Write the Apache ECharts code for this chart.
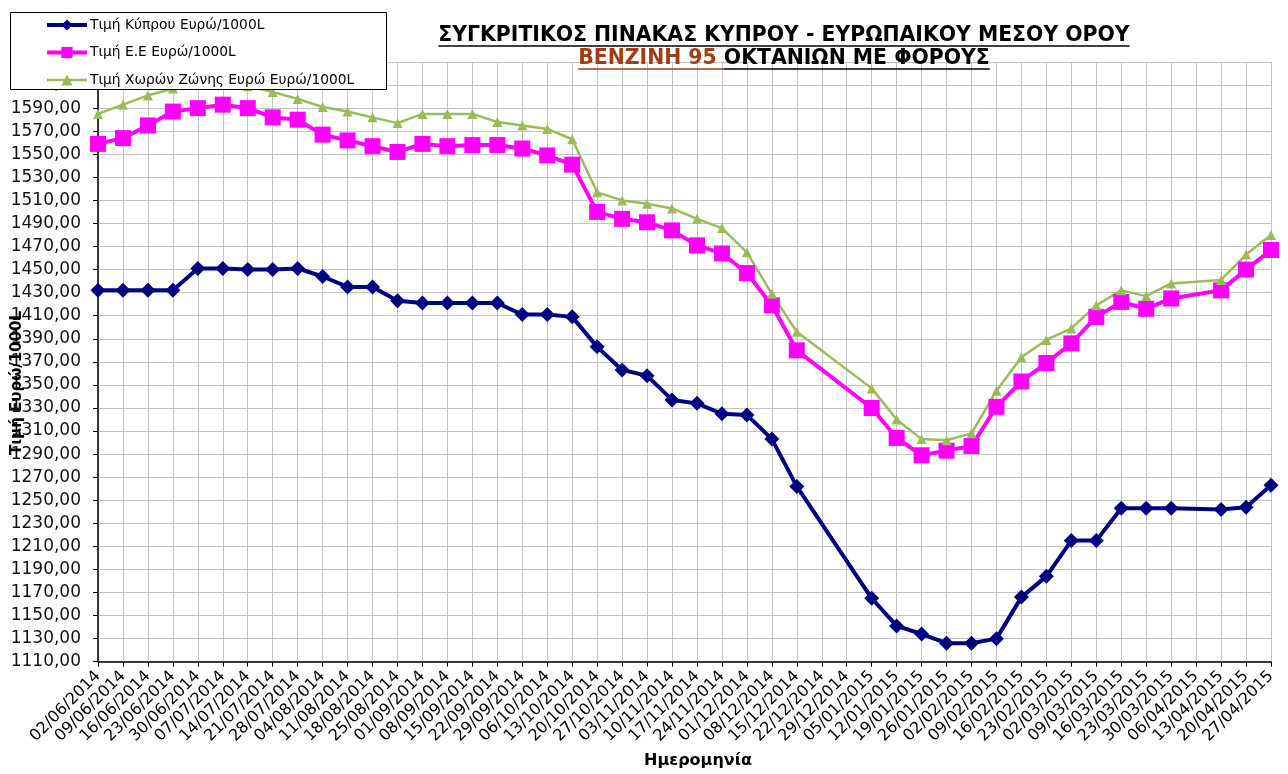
<!DOCTYPE html>
<html><head><meta charset="utf-8">
<script src="https://cdn.jsdelivr.net/npm/echarts@6/dist/echarts.min.js"></script>
<style>html,body{margin:0;padding:0;background:#fff}#c{width:1288px;height:774px}</style>
</head><body><div id="c"></div>
<script>
const categories = ['02/06/2014','09/06/2014','16/06/2014','23/06/2014','30/06/2014','07/07/2014','14/07/2014','21/07/2014','28/07/2014','04/08/2014','11/08/2014','18/08/2014','25/08/2014','01/09/2014','08/09/2014','15/09/2014','22/09/2014','29/09/2014','06/10/2014','13/10/2014','20/10/2014','27/10/2014','03/11/2014','10/11/2014','17/11/2014','24/11/2014','01/12/2014','08/12/2014','15/12/2014','22/12/2014','29/12/2014','05/01/2015','12/01/2015','19/01/2015','26/01/2015','02/02/2015','09/02/2015','16/02/2015','23/02/2015','02/03/2015','09/03/2015','16/03/2015','23/03/2015','30/03/2015','06/04/2015','13/04/2015','20/04/2015','27/04/2015'];
const cyprus = [1432,1432,1432,1432,1451,1451,1450,1450,1451,1444,1435,1435,1423,1421,1421,1421,1421,1411,1411,1409,1383,1363,1358,1337,1334,1325,1324,1303,1262,null,null,1165,1141,1134,1126,1126,1130,1166,1184,1215,1215,1243,1243,1243,null,1242,1244,1263];
const eu = [1559,1564,1575,1587,1590,1593,1590,1582,1580,1567,1562,1557,1552,1559,1557,1558,1558,1555,1549,1541,1500,1494,1491,1484,1471,1464,1447,1419,1380,null,null,1330,1304,1289,1293,1297,1331,1353,1369,1386,1409,1422,1416,1425,null,1432,1450,1467];
const euroZone = [1585,1593,1601,1607,1610,1612,1609,1604,1598,1591,1587,1582,1577,1585,1585,1585,1578,1575,1572,1563,1517,1510,1507,1503,1494,1486,1465,1429,1396,null,null,1347,1320,1303,1302,1308,1345,1374,1389,1399,1419,1432,1427,1438,null,1441,1463,1480];
const seriesNames = ['Τιμή Κύπρου Ευρώ/1000L','Τιμή Ε.Ε Ευρώ/1000L','Τιμή Χωρών Ζώνης Ευρώ Ευρώ/1000L'];
const yRange = [1110, 1630];
const yStep = 20;
const titleLine1 = 'ΣΥΓΚΡΙΤΙΚΟΣ ΠΙΝΑΚΑΣ ΚΥΠΡΟΥ - ΕΥΡΩΠΑΙΚΟΥ ΜΕΣΟΥ ΟΡΟΥ';
const titleLine2a = 'ΒΕΝΖΙΝΗ 95';
const titleLine2b = 'ΟΚΤΑΝΙΩΝ ΜΕ ΦΟΡΟΥΣ';
const xName = 'Ημερομηνία';
const yName = 'Τιμή Ευρώ/1000L';

const FF = "'DejaVu Sans', sans-serif";
const TSIZE = 20.4;
const TFONT = "bold " + TSIZE + "px 'DejaVu Sans'";
const cv = document.createElement('canvas').getContext('2d');
function tw(t, f){ cv.font = f; return cv.measureText(t).width; }
const TCX = 784;
const w1 = tw(titleLine1, TFONT);
const w2a = tw(titleLine2a, TFONT), wsp = tw(' ', TFONT), w2b = tw(titleLine2b, TFONT);
const w2 = w2a + wsp + w2b;
const x2 = TCX - w2 / 2;
const lineWidths = [4, 4, 2.5];

const chart = echarts.init(document.getElementById('c'), null, {renderer:'canvas'});
chart.setOption({
  animation: false,
  backgroundColor: '#fff',
  title: [
    {text: titleLine1, left: TCX, textAlign: 'center', top: 26, padding: 0,
     textStyle: {fontFamily: FF, fontWeight: 'bold', fontSize: TSIZE, color: '#000'}},
    {text: '{r|' + titleLine2a + '} {k|' + titleLine2b + '}', left: TCX, textAlign: 'center', top: 49, padding: 0,
     textStyle: {fontFamily: FF, fontWeight: 'bold', fontSize: TSIZE, color: '#000',
       rich: {r: {color: '#a33c12', fontFamily: FF, fontWeight: 'bold', fontSize: TSIZE},
              k: {color: '#000', fontFamily: FF, fontWeight: 'bold', fontSize: TSIZE}}}}
  ],
  graphic: [
    {type: 'line', z: 5, shape: {x1: TCX - w1/2, y1: 46, x2: TCX + w1/2, y2: 46}, style: {stroke: '#000', lineWidth: 1.5}},
    {type: 'line', z: 5, shape: {x1: x2, y1: 69, x2: x2 + w2a + wsp, y2: 69}, style: {stroke: '#a33c12', lineWidth: 1.5}},
    {type: 'line', z: 5, shape: {x1: x2 + w2a + wsp, y1: 69, x2: x2 + w2, y2: 69}, style: {stroke: '#000', lineWidth: 1.5}},
    {type: 'rect', z: 10, shape: {x: 10.5, y: 12.5, width: 376, height: 77}, style: {fill: '#fff', stroke: '#000', lineWidth: 1}},
    {type: 'text', z: 10, x: 17, y: 383, rotation: Math.PI/2,
     style: {text: yName, font: "bold 15px 'DejaVu Sans'", fill: '#000', textAlign: 'center', textVerticalAlign: 'middle'}},
    {type: 'text', z: 10, x: 698, y: 761,
     style: {text: xName, font: "bold 16px 'DejaVu Sans'", fill: '#000', textAlign: 'center', textVerticalAlign: 'middle'}}
  ],
  legend: {
    z: 11, orient: 'vertical', left: 45, top: 18, padding: 0, itemGap: 13.5,
    itemWidth: 40, itemHeight: 14,
    textStyle: {fontFamily: FF, fontSize: 13.8, color: '#000', padding: [0, 0, 0, -2]},
    data: seriesNames.map((n, i) => ({name: n, lineStyle: {width: lineWidths[i]}}))
  },
  grid: {left: 98, right: 17, top: 62, bottom: 112.3, containLabel: false},
  xAxis: {
    type: 'category', data: categories, boundaryGap: false,
    axisLine: {lineStyle: {color: '#000', width: 1.5}},
    axisTick: {show: true, interval: 0, length: 5, lineStyle: {color: '#000'}},
    axisLabel: {interval: 0, rotate: 45, fontFamily: FF, fontSize: 16, color: '#000', margin: 12},
    splitLine: {show: true, interval: 0, lineStyle: {color: '#c4c4c4', width: 1}}
  },
  yAxis: {
    type: 'value', min: yRange[0], max: yRange[1], interval: yStep,
    axisLine: {show: true, lineStyle: {color: '#000', width: 1.5}},
    axisTick: {show: true, length: 5, lineStyle: {color: '#000'}},
    axisLabel: {fontFamily: FF, fontSize: 17, color: '#111', margin: 17,
      formatter: v => v.toFixed(2).replace('.', ',')},
    splitLine: {show: true, lineStyle: {color: '#c4c4c4', width: 1}}
  },
  series: [
    {name: seriesNames[0], type: 'line', data: cyprus, connectNulls: true,
     symbol: 'diamond', symbolSize: 15, showAllSymbol: true,
     lineStyle: {color: '#000080', width: lineWidths[0]}, itemStyle: {color: '#000080'}},
    {name: seriesNames[1], type: 'line', data: eu, connectNulls: true,
     symbol: 'rect', symbolSize: 16, showAllSymbol: true,
     lineStyle: {color: '#ff00ff', width: lineWidths[1]}, itemStyle: {color: '#ff00ff'}},
    {name: seriesNames[2], type: 'line', data: euroZone, connectNulls: true,
     symbol: 'triangle', symbolSize: 10, showAllSymbol: true,
     lineStyle: {color: '#9bbb59', width: lineWidths[2]}, itemStyle: {color: '#9bbb59'}}
  ]
});
</script></body></html>
